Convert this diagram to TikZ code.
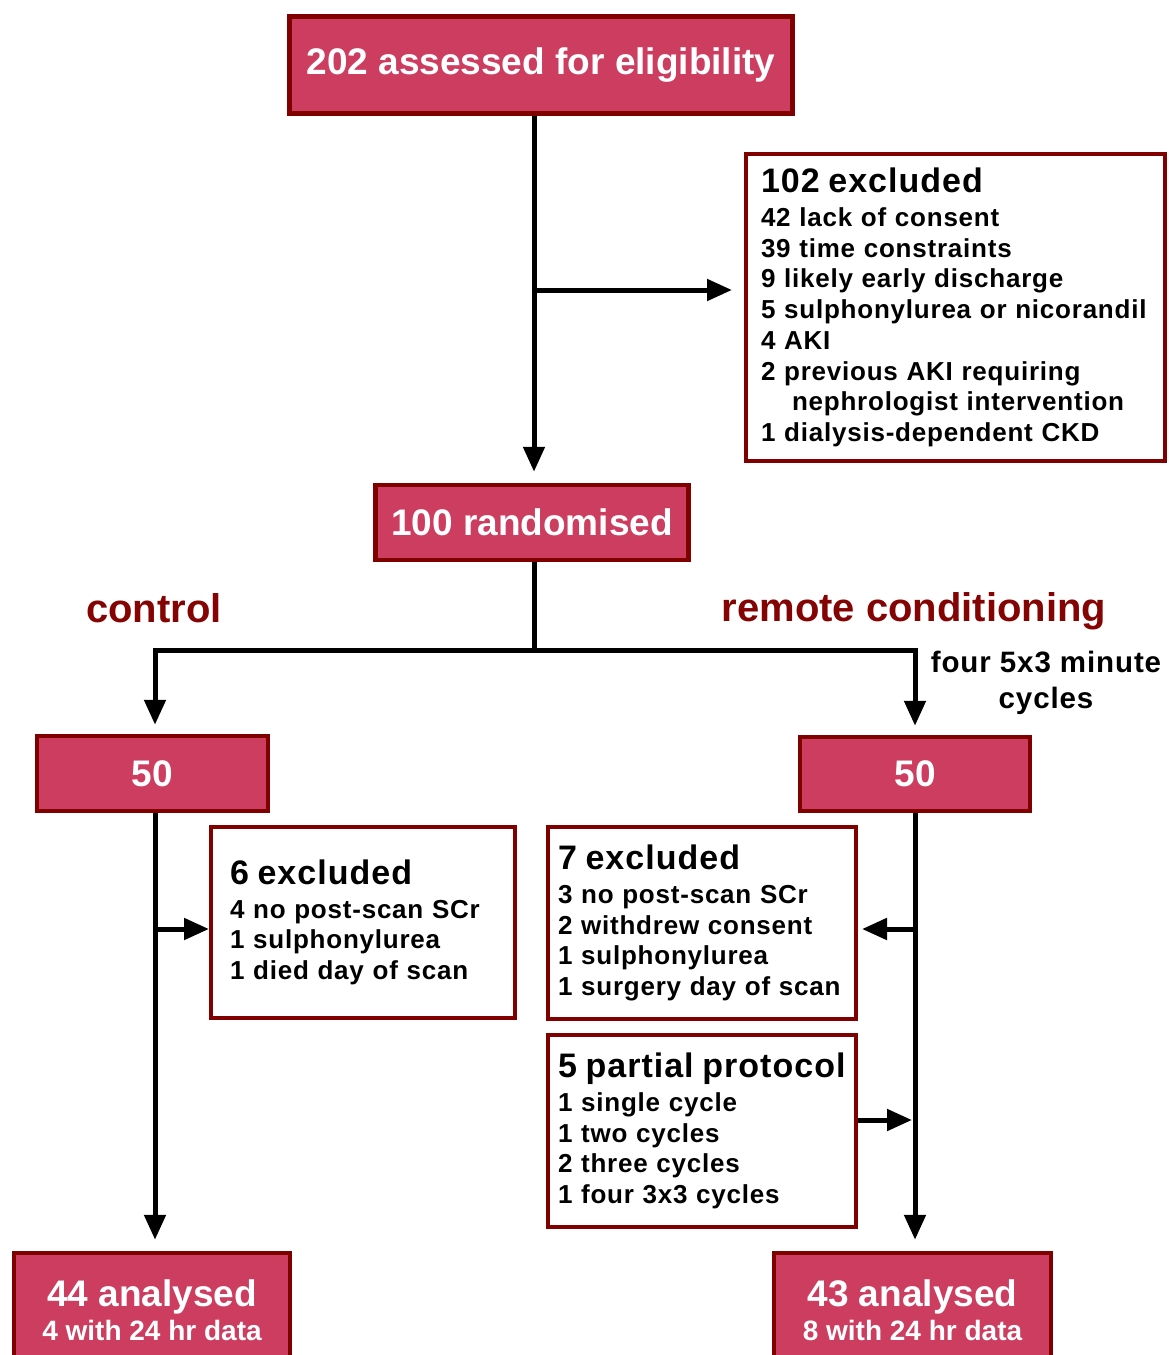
\documentclass[tikz,border=0pt]{standalone}
\usepackage{fontspec}
\setmainfont{Liberation Sans}
\newfontfamily\spacedfont{Liberation Sans}[LetterSpace=3.0]
\usetikzlibrary{arrows.meta,positioning,calc}
\definecolor{boxfill}{RGB}{204,61,96}
\definecolor{boxedge}{RGB}{128,0,0}
\definecolor{armred}{RGB}{132,4,4}
\tikzset{
  flow/.style={-{Triangle[length=25pt,width=21pt]}, line width=5pt, draw=black},
  headbox/.style={shape=rectangle, draw=boxedge, line width=4.5pt, fill=boxfill, text=white, align=center, inner sep=0pt, font=\bfseries\fontsize{37}{42}\selectfont},
  notebox/.style={shape=rectangle, draw=boxedge, line width=4pt, fill=white, align=left, inner ysep=0pt, font=\spacedfont\bfseries\fontsize{26}{30.7}\selectfont},
  armlabel/.style={text=armred, inner sep=0pt, font=\bfseries\fontsize{40}{44}\selectfont}
}
\newcommand{\boxtitle}[1]{{\fontsize{34}{36}\selectfont #1}\\[3pt]}

\begin{document}
\begin{tikzpicture}[x=1pt,y=-1pt]
  \useasboundingbox (0,0) rectangle (1168,1355);

  \node[headbox, minimum width=503pt, minimum height=97pt] (assess) at (541,65) {202 assessed for eligibility};
  \node[notebox, minimum height=307pt, inner xsep=15pt, text width=389pt] (excl) at (955.5,307.5) {\boxtitle{102 excluded}42 lack of consent\\39 time constraints\\9 likely early discharge\\5 sulphonylurea or nicorandil\\4 AKI\\2 previous AKI requiring\\\hspace*{31pt}nephrologist intervention\\1 dialysis-dependent CKD};
  \node[headbox, minimum width=313pt, minimum height=75pt] (rand) at (532,522.5) {100 randomised};

  \node[armlabel] (ctrllabel) at (154,608) {control};
  \node[armlabel] (rclabel) at (914,611) {remote conditioning};
  \node[align=center, inner sep=0pt, font=\spacedfont\bfseries\fontsize{29.5}{36}\selectfont] (cycles) at (1046,683) {four 5x3 minute\\cycles};

  \node[headbox, minimum width=231pt, minimum height=75pt] (ctrl50) at (152.5,773.5) {50};
  \node[headbox, minimum width=230pt, minimum height=74pt] (rc50) at (915,774) {50};

  \node[notebox, minimum height=191pt, inner xsep=19pt, text width=266pt] (exctrl) at (363,922.5) {\boxtitle{6 excluded}4 no post-scan SCr\\1 sulphonylurea\\1 died day of scan};
  \node[notebox, minimum height=192pt, inner xsep=10pt, text width=288pt] (exrc) at (702,923) {\boxtitle{7 excluded}3 no post-scan SCr\\2 withdrew consent\\1 sulphonylurea\\1 surgery day of scan};
  \node[notebox, minimum height=192pt, inner xsep=10pt, text width=288pt] (partial) at (702,1131) {\boxtitle{5 partial protocol}1 single cycle\\1 two cycles\\2 three cycles\\1 four 3x3 cycles};

  \node[headbox, minimum width=276pt, minimum height=114pt] (anactrl) at (152,1310) {44 analysed\\[-8pt]{\fontsize{28}{32}\selectfont 4 with 24 hr data}};
  \node[headbox, minimum width=277pt, minimum height=114pt] (anarc) at (912.5,1310) {43 analysed\\[-8pt]{\fontsize{28}{32}\selectfont 8 with 24 hr data}};

  % screening trunk and randomisation split
  \coordinate (exjoin) at (534,290);
  \coordinate (split) at (534,650);
  \draw[flow, shorten >=11pt] (assess.south -| exjoin) -- (exjoin |- rand.north);
  \draw[flow, shorten >=12pt] (exjoin) -- (exjoin -| excl.west);
  \draw[line width=5pt] (rand.south -| split) -- (split);
  \draw[flow, {Triangle[length=25pt,width=21pt]}-{Triangle[length=25pt,width=21pt]}, shorten <=9pt, shorten >=9pt] ([xshift=2.5pt]ctrl50.north) |- (split) -| (rc50.north);

  \draw[flow, shorten >=11pt] ([xshift=2.5pt]ctrl50.south) -- ([xshift=2.5pt]ctrl50.south |- anactrl.north);
  \draw[flow] ([xshift=2.5pt,yshift=-6.5pt]ctrl50.south |- exctrl.west) -- ([yshift=-6.5pt]exctrl.west);
  \draw[flow, shorten >=11pt] (rc50.south) -- (rc50.south |- anarc.north);
  \draw[flow, shorten >=4pt] ([yshift=-6pt]rc50.south |- exrc.east) -- ([yshift=-6pt]exrc.east);
  \draw[flow, shorten >=3pt] ([yshift=11pt]partial.east) -- ([yshift=11pt]rc50.south |- partial.east);
\end{tikzpicture}
\end{document}
